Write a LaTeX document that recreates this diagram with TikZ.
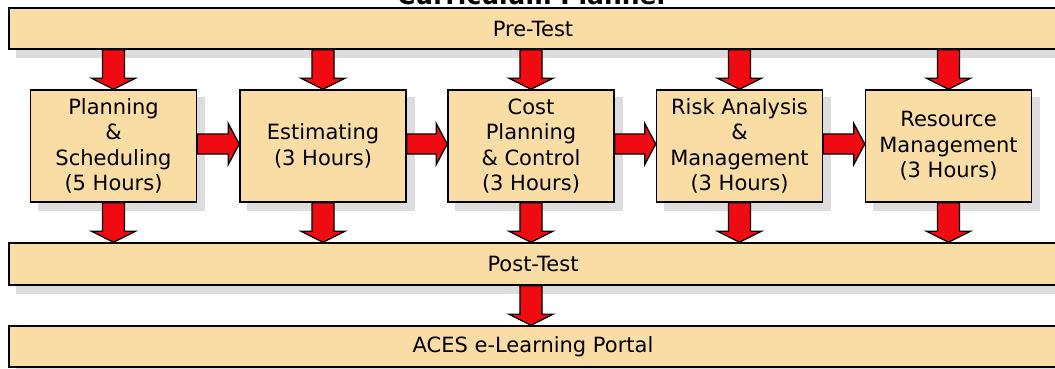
\documentclass[tikz,border=0pt]{standalone}
\usepackage{fontspec}
\setmainfont{DejaVu Sans}
\usetikzlibrary{calc}
\pgfdeclarelayer{shadow}
\pgfsetlayers{shadow,main}
\definecolor{boxfill}{RGB}{250,220,165}
\definecolor{arrred}{RGB}{240,10,18}
\definecolor{shadowgray}{RGB}{221,221,221}
\tikzset{
  box/.style={draw=black, line width=1.5pt, fill=boxfill, align=center, inner sep=0pt,
    font=\fontsize{21}{25.5}\selectfont, text=black},
  bar/.style={box, minimum width=1048pt, minimum height=41pt},
  stage/.style={box, minimum width=166pt, minimum height=112pt},
  blockarrow/.style={draw=black, line width=1.3pt, fill=arrred, line join=miter},
  shadowfill/.style={fill=shadowgray, draw=none},
  titlefont/.style={font=\bfseries\fontsize{25}{30}\selectfont},
}
% down block arrow: #1 style, #2 start point, #3 tip point
\newcommand{\downblock}[3]{%
  \path[#1] let \p1=(#2), \p2=(#3) in
    (\x2-11pt,\y1) -- (\x2+11pt,\y1) -- (\x2+11pt,\y2+11pt) -- (\x2+22pt,\y2+11pt)
    -- (\x2,\y2) -- (\x2-22pt,\y2+11pt) -- (\x2-11pt,\y2+11pt) -- cycle;}
% right block arrow: #1 style, #2 start point, #3 tip point
\newcommand{\rightblock}[3]{%
  \path[#1] let \p1=(#2), \p2=(#3) in
    (\x1,\y2+10pt) -- (\x2-11pt,\y2+10pt) -- (\x2-11pt,\y2+20.5pt) -- (\x2,\y2)
    -- (\x2-11pt,\y2-20.5pt) -- (\x2-11pt,\y2-10pt) -- (\x1,\y2-10pt) -- cycle;}
\newcommand{\shadowdown}[2]{%
  \begin{pgfonlayer}{shadow}\downblock{shadowfill,shift={(8pt,-8pt)}}{#1}{#2}\end{pgfonlayer}%
  \downblock{blockarrow}{#1}{#2}}
\newcommand{\shadowright}[2]{%
  \begin{pgfonlayer}{shadow}\rightblock{shadowfill,shift={(8pt,-8pt)}}{#1}{#2}\end{pgfonlayer}%
  \rightblock{blockarrow}{#1}{#2}}
\begin{document}
\begin{tikzpicture}[x=1pt,y=-1pt]
\useasboundingbox (0,0) rectangle (1055,368);
\clip (0,0) rectangle (1055,368);

\node[titlefont, anchor=base] (title) at (533,4) {Curriculum Planner};

\node[bar] (pre) at (533,28.5) {Pre-Test};
\node[bar, minimum height=42pt] (post) at (533,264) {Post-Test};
\node[bar] (aces) at (533,346.5) {ACES e-Learning Portal};

\node[stage] (b1) at (113.5,146) {Planning\\\&\\Scheduling\\(5 Hours)};
\node[stage] (b2) at (323,146) {Estimating\\(3 Hours)};
\node[stage] (b3) at (531,146) {Cost\\Planning\\\& Control\\(3 Hours)};
\node[stage] (b4) at (739.5,146) {Risk Analysis\\\&\\Management\\(3 Hours)};
\node[stage] (b5) at (948.5,146) {Resource\\Management\\(3 Hours)};

\begin{pgfonlayer}{shadow}
\foreach \s in {pre,post,aces,b1,b2,b3,b4,b5}
  \fill[shadowfill] ([shift={(8pt,-8pt)}]\s.south west) rectangle ([shift={(8pt,-8pt)}]\s.north east);
\end{pgfonlayer}

\foreach \s in {b1,b2,b3,b4,b5}{
  \shadowdown{pre.south -| \s.north}{\s.north}
  \shadowdown{\s.south}{post.north -| \s.south}
}
\shadowright{[yshift=2pt]b1.east}{[yshift=2pt]b2.west}
\shadowright{[yshift=2pt]b2.east}{[yshift=2pt]b3.west}
\shadowright{[yshift=2pt]b3.east}{[yshift=2pt]b4.west}
\shadowright{[yshift=2pt]b4.east}{[yshift=2pt]b5.west}
\shadowdown{post.south -| b3.south}{aces.north -| b3.south}
\end{tikzpicture}
\end{document}
